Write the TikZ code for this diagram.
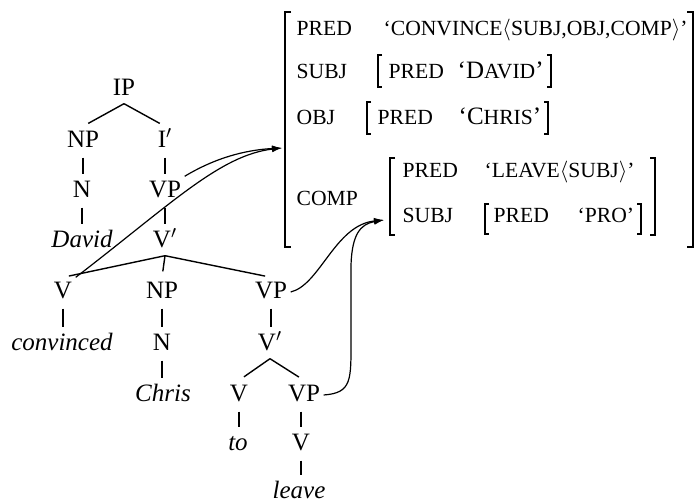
\documentclass[tikz,border=0pt]{standalone}
\usepackage{fontspec}
\setmainfont{Liberation Serif}
\usepackage{tikz}
\usetikzlibrary{arrows.meta, positioning}
\newcommand{\fsc}[1]{{\fontsize{10.8}{13}\selectfont #1}}

\begin{document}
\begin{tikzpicture}[
        x=0.5pt, y=-0.5pt,
        font=\fontsize{12.5}{15}\selectfont,
        line width=0.7pt,
        % Define styles for the tree labels and the f-structure
        cat/.style={anchor=base, inner sep=1.5pt, text height=8.5pt, text depth=2.5pt},
        word/.style={cat, font=\fontsize{12.5}{15}\selectfont\itshape},
        branch/.style={shorten >=3pt},
        unary/.style={shorten >=1pt, shorten <=1pt},
        attr/.style={anchor=base west, inner sep=0pt},
        brak/.style={line width=0.8pt},
        outerbrak/.style={line width=1.1pt},
        corr/.style={-{Latex[length=5pt, width=3.2pt]}, line width=0.6pt}
    ]
    \useasboundingbox (0,0) rectangle (696,503);

    % The c-structure tree
    \node[cat] (ip) at (124,95) {IP};
    \node[cat] (np1) at (83,147) {NP};
    \node[cat] (ibar) at (165,147) {I$'$};
    \node[cat] (n1) at (82,197) {N};
    \node[cat] (vp1) at (165,197) {VP};
    \node[word] (david) at (82,247) {David};
    \node[cat] (vbar1) at (165,247) {V$'$};
    \node[cat] (v1) at (63,298) {V};
    \node[cat] (np2) at (162,298) {NP};
    \node[cat] (vp2) at (271,298) {VP};
    \node[word] (convinced) at (62,350) {convinced};
    \node[cat] (n2) at (162,350) {N};
    \node[cat] (vbar2) at (270,350) {V$'$};
    \node[word] (chris) at (163,401) {Chris};
    \node[cat] (v2) at (239,401) {V};
    \node[cat] (vp3) at (304,401) {VP};
    \node[word] (to) at (238,450) {to};
    \node[cat] (v3) at (301,450) {V};
    \node[word] (leave) at (299,498) {leave};

    % Tree branches
    \draw[branch] (ip.south) -- (np1.north);
    \draw[branch] (ip.south) -- (ibar.north);
    \draw[unary] (np1.south) -- (np1.south |- n1.north);
    \draw[unary] (ibar.south) -- (ibar.south |- vp1.north);
    \draw[unary] (n1.south) -- (n1.south |- david.north);
    \draw[unary] (vp1.south) -- (vp1.south |- vbar1.north);
    \draw[branch] (vbar1.south) -- (v1.north);
    \draw[branch] (vbar1.south) -- (np2.north);
    \draw[branch] (vbar1.south) -- (vp2.north);
    \draw[unary] (v1.south) -- (v1.south |- convinced.north);
    \draw[unary] (np2.south) -- (np2.south |- n2.north);
    \draw[unary] (vp2.south) -- (vp2.south |- vbar2.north);
    \draw[unary] (n2.south) -- (n2.south |- chris.north);
    \draw[branch] (vbar2.south) -- (v2.north);
    \draw[branch] (vbar2.south) -- (vp3.north);
    \draw[unary] (v2.south) -- (v2.south |- to.north);
    \draw[unary] (v3.north |- vp3.south) -- (v3.north);
    \draw[unary] (v3.south) -- (v3.south |- leave.north);

    % The f-structure
    \node[attr] (pred) at (296,35) {\fsc{PRED}};
    \node[attr] (convince) at (383,35) {\fsc{`CONVINCE$\langle$SUBJ,OBJ,COMP$\rangle$'}};
    \node[attr] (subj) at (296,78) {\fsc{SUBJ}};
    \node[attr] (subjpred) at (388,78) {\fsc{PRED}};
    \node[attr] (dav) at (457,78) {`D\fsc{AVID}'};
    \node[attr] (obj) at (296,124) {\fsc{OBJ}};
    \node[attr] (objpred) at (377,124) {\fsc{PRED}};
    \node[attr] (chr) at (458,124) {`C\fsc{HRIS}'};
    \node[attr] (comp) at (296,205) {\fsc{COMP}};
    \node[attr] (comppred) at (402,177) {\fsc{PRED}};
    \node[attr] (lv) at (484,177) {\fsc{`LEAVE$\langle$SUBJ$\rangle$'}};
    \node[attr] (compsubj) at (402,222) {\fsc{SUBJ}};
    \node[attr] (propred) at (493,222) {\fsc{PRED}};
    \node[attr] (pro) at (577,222) {\fsc{`PRO'}};

    % Brackets
    \draw[outerbrak] (291,12) -- (285,12) -- (285,247) -- (291,247);
    \draw[outerbrak] (687,12) -- (693,12) -- (693,247) -- (687,247);
    \draw[brak] (382,55) -- (378,55) -- (378,87) -- (382,87);
    \draw[brak] (547,55) -- (551,55) -- (551,87) -- (547,87);
    \draw[brak] (371,102) -- (367,102) -- (367,134) -- (371,134);
    \draw[brak] (544,102) -- (548,102) -- (548,134) -- (544,134);
    \draw[brak] (395,158) -- (390,158) -- (390,235) -- (395,235);
    \draw[brak] (650,158) -- (655,158) -- (655,235) -- (650,235);
    \draw[brak] (489,204) -- (485,204) -- (485,234) -- (489,234);
    \draw[brak] (637,204) -- (641,204) -- (641,234) -- (637,234);

    % Correspondence arrows
    \coordinate (fmain) at (282,148);
    \coordinate (fcomp) at (384,220);
    \draw[corr] (vp1.north east) .. controls (215,158) and (245,150) .. (fmain);
    \draw[corr] (v1.north east) .. controls (170,205) and (220,155) .. (fmain);
    \draw[corr] (vp2.east) .. controls (320,285) and (335,225) .. (fcomp);
    \draw[corr] (vp3.east) .. controls (352,393) and (351,380) .. (351,340)
        -- (351,265) .. controls (352,235) and (360,224) .. (fcomp);
\end{tikzpicture}
\end{document}
